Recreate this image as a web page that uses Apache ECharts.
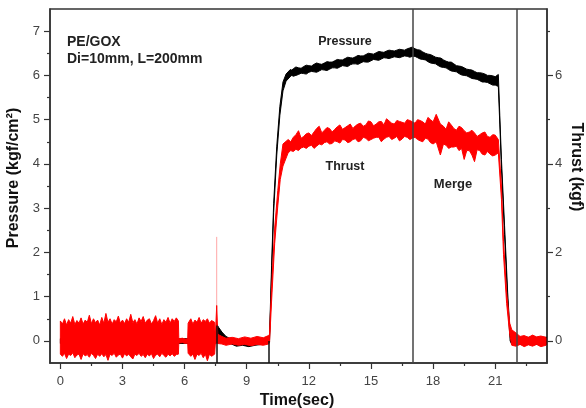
<!DOCTYPE html>
<html lang="en">

<head>
  <meta charset="UTF-8">
  <title>PE/GOX pressure and thrust</title>
  <script src="https://cdn.jsdelivr.net/npm/echarts@6.0.0/dist/echarts.min.js"></script>
  <style>
    html, body { margin: 0; padding: 0; background: #fff; }
    #chart { width: 586px; height: 408px; }
  </style>
</head>

<body>
  <div id="chart"></div>
  <script>
    // ---- data: rows are [time (s), band low, band high] ----
    // pressure (kgf/cm2), black trace
    const pressureIdle = [
      [0, -0.06, 0.05], [5.7, -0.06, 0.05], [7.5, -0.05, 0.05],
      [7.55, -0.03, 0.38], [7.65, 0.12, 0.3], [7.8, 0.05, 0.2], [8.0, -0.02, 0.1],
      [8.2, -0.06, 0.05], [8.5, -0.12, -0.02], [8.8, -0.1, 0.0], [9.1, -0.13, -0.03],
      [9.4, -0.1, 0.0], [9.7, -0.08, 0.02], [10.05, -0.05, 0.05]
    ];
    const pressureBurn = [
      [10.1, -0.02, 0.1], [10.2, 1.5, 1.7], [10.3, 2.9, 3.1], [10.45, 4.2, 4.4],
      [10.6, 5.1, 5.3], [10.75, 5.65, 5.85], [10.9, 5.87, 6.03], [11.1, 5.97, 6.13],
      [11.175, 6.0, 6.12], [11.25, 5.98, 6.15], [11.375, 6.0, 6.19], [11.5, 6.02, 6.17],
      [11.625, 6.05, 6.16], [11.75, 6.04, 6.2], [11.875, 6.03, 6.23], [12.0, 6.07, 6.22],
      [12.125, 6.09, 6.21], [12.25, 6.08, 6.25], [12.375, 6.07, 6.28], [12.5, 6.1, 6.26],
      [12.625, 6.13, 6.25], [12.75, 6.12, 6.28], [12.875, 6.11, 6.31], [13.0, 6.14, 6.3],
      [13.125, 6.17, 6.3], [13.25, 6.17, 6.33], [13.375, 6.16, 6.36], [13.5, 6.19, 6.35],
      [13.625, 6.22, 6.35], [13.75, 6.21, 6.38], [13.875, 6.2, 6.41], [14.0, 6.24, 6.4],
      [14.125, 6.26, 6.39], [14.25, 6.26, 6.42], [14.375, 6.25, 6.45], [14.5, 6.28, 6.44],
      [14.625, 6.31, 6.44], [14.75, 6.3, 6.47], [14.875, 6.3, 6.5], [15.0, 6.33, 6.49],
      [15.125, 6.36, 6.48], [15.25, 6.35, 6.51], [15.375, 6.34, 6.54], [15.5, 6.37, 6.53],
      [15.625, 6.4, 6.52], [15.75, 6.39, 6.55], [15.875, 6.38, 6.57], [16.0, 6.4, 6.56],
      [16.125, 6.42, 6.55], [16.25, 6.41, 6.57], [16.375, 6.4, 6.59], [16.5, 6.42, 6.58],
      [16.625, 6.44, 6.57], [16.75, 6.43, 6.6], [16.875, 6.41, 6.62], [17.0, 6.43, 6.64],
      [17.125, 6.43, 6.6], [17.25, 6.4, 6.58], [17.375, 6.37, 6.57], [17.5, 6.36, 6.53],
      [17.625, 6.35, 6.5], [17.75, 6.31, 6.48], [17.875, 6.28, 6.47], [18.0, 6.27, 6.44],
      [18.125, 6.26, 6.41], [18.25, 6.22, 6.4], [18.375, 6.19, 6.39], [18.5, 6.18, 6.35],
      [18.625, 6.17, 6.32], [18.75, 6.13, 6.3], [18.875, 6.1, 6.3], [19.0, 6.09, 6.26],
      [19.125, 6.08, 6.22], [19.25, 6.04, 6.21], [19.375, 6.01, 6.2], [19.5, 6.0, 6.17],
      [19.625, 5.99, 6.14], [19.75, 5.96, 6.13], [19.875, 5.93, 6.12], [20.0, 5.92, 6.09],
      [20.125, 5.91, 6.06], [20.25, 5.88, 6.06], [20.375, 5.85, 6.05], [20.5, 5.85, 6.03],
      [20.625, 5.84, 6.0], [20.75, 5.81, 6.0], [20.875, 5.78, 5.99], [21.0, 5.78, 5.97],
      [21.15, 5.75, 6.02], [21.22, 4.9, 5.1], [21.3, 3.9, 4.1], [21.45, 2.4, 2.6],
      [21.6, 0.9, 1.1], [21.72, 0.0, 0.15], [21.8, -0.08, 0.08], [23.5, -0.08, 0.08]
    ];

    // thrust (kgf), red trace
    const thrustIdle = [
      [0, -0.3, 0.45], [0.1, -0.35, 0.38], [0.2, -0.28, 0.5], [0.3, -0.4, 0.36], [0.4, -0.3, 0.48],
      [0.5, -0.33, 0.4], [0.6, -0.27, 0.55], [0.7, -0.38, 0.37], [0.8, -0.32, 0.46], [0.9, -0.3, 0.4],
      [1.0, -0.42, 0.52], [1.1, -0.29, 0.38], [1.2, -0.34, 0.47], [1.3, -0.31, 0.42], [1.4, -0.37, 0.58],
      [1.5, -0.28, 0.39], [1.6, -0.33, 0.5], [1.7, -0.4, 0.41], [1.8, -0.3, 0.47], [1.9, -0.35, 0.36],
      [2.0, -0.29, 0.53], [2.1, -0.36, 0.4], [2.2, -0.31, 0.62], [2.3, -0.44, 0.42], [2.4, -0.3, 0.5],
      [2.5, -0.33, 0.38], [2.6, -0.28, 0.48], [2.7, -0.37, 0.43], [2.8, -0.32, 0.56], [2.9, -0.3, 0.4],
      [3.0, -0.39, 0.47], [3.1, -0.29, 0.39], [3.2, -0.34, 0.5], [3.3, -0.3, 0.42], [3.4, -0.36, 0.6],
      [3.5, -0.41, 0.41], [3.6, -0.3, 0.48], [3.7, -0.33, 0.38], [3.8, -0.28, 0.52], [3.9, -0.35, 0.44],
      [4.0, -0.31, 0.55], [4.1, -0.38, 0.4], [4.2, -0.3, 0.47], [4.3, -0.34, 0.5], [4.4, -0.29, 0.38],
      [4.5, -0.4, 0.46], [4.6, -0.32, 0.57], [4.7, -0.3, 0.4], [4.8, -0.36, 0.5], [4.9, -0.28, 0.37],
      [5.0, -0.33, 0.48], [5.1, -0.37, 0.42], [5.2, -0.3, 0.53], [5.3, -0.34, 0.4], [5.4, -0.29, 0.5],
      [5.5, -0.35, 0.44], [5.6, -0.31, 0.52], [5.7, -0.3, 0.45],
      [5.72, -0.05, 0.05], [5.9, -0.04, 0.06], [6.05, -0.06, 0.04], [6.15, -0.05, 0.05],
      [6.17, -0.28, 0.4], [6.3, -0.35, 0.5], [6.4, -0.3, 0.38], [6.5, -0.42, 0.47], [6.6, -0.3, 0.42],
      [6.7, -0.33, 0.53], [6.8, -0.28, 0.4], [6.9, -0.38, 0.48], [7.0, -0.3, 0.44], [7.1, -0.45, 0.5],
      [7.2, -0.3, 0.4], [7.3, -0.35, 0.46], [7.45, -0.3, 0.42],
      [7.48, -0.08, 0.06], [7.55, -0.05, 0.8], [7.6, -0.06, 0.15], [7.8, -0.07, 0.1], [8.0, -0.1, 0.06],
      [8.3, -0.07, 0.08], [8.6, -0.1, 0.05], [8.9, -0.08, 0.09], [9.2, -0.11, 0.06], [9.5, -0.08, 0.1],
      [9.8, -0.1, 0.07], [10.05, -0.07, 0.12]
    ];
    const thrustBurn = [
      [10.1, -0.05, 0.15], [10.2, 0.9, 1.2], [10.35, 2.2, 2.55], [10.5, 3.05, 3.4], [10.62, 3.65, 4.0],
      [10.75, 3.95, 4.45], [11.0, 4.25, 4.55], [11.125, 4.3, 4.5], [11.25, 4.28, 4.6], [11.375, 4.33, 4.66],
      [11.5, 4.3, 4.75], [11.625, 4.36, 4.58], [11.75, 4.38, 4.62], [11.875, 4.35, 4.68], [12.0, 4.4, 4.7],
      [12.125, 4.42, 4.64], [12.25, 4.35, 4.72], [12.375, 4.4, 4.8], [12.5, 4.45, 4.85], [12.625, 4.43, 4.7],
      [12.75, 4.48, 4.76], [12.875, 4.5, 4.82], [13.0, 4.45, 4.8], [13.125, 4.46, 4.72], [13.25, 4.52, 4.78],
      [13.375, 4.5, 4.84], [13.5, 4.47, 4.88], [13.625, 4.55, 4.78], [13.75, 4.54, 4.82], [13.875, 4.48, 4.86],
      [14.0, 4.5, 4.9], [14.125, 4.55, 4.8], [14.25, 4.57, 4.86], [14.375, 4.5, 4.9], [14.5, 4.52, 4.92],
      [14.625, 4.6, 4.85], [14.75, 4.58, 4.88], [14.875, 4.52, 4.97], [15.0, 4.55, 4.95], [15.125, 4.58, 4.86],
      [15.25, 4.6, 4.9], [15.375, 4.6, 4.95], [15.5, 4.5, 4.96], [15.625, 4.56, 4.88], [15.75, 4.6, 5.02],
      [15.875, 4.62, 4.97], [16.0, 4.55, 4.92], [16.125, 4.58, 4.9], [16.25, 4.62, 4.98], [16.375, 4.52, 4.96],
      [16.5, 4.56, 4.94], [16.625, 4.62, 4.92], [16.75, 4.6, 5.0], [16.875, 4.55, 4.98], [17.0, 4.58, 4.95],
      [17.125, 4.6, 4.92], [17.25, 4.55, 5.0], [17.375, 4.52, 4.98], [17.5, 4.5, 4.95], [17.625, 4.58, 4.9],
      [17.75, 4.56, 5.05], [17.875, 4.48, 5.0], [18.0, 4.45, 4.95], [18.15, 4.5, 5.12], [18.35, 4.2, 4.9],
      [18.5, 4.45, 4.85], [18.625, 4.42, 4.78], [18.75, 4.35, 4.95], [18.875, 4.38, 4.88], [19.0, 4.38, 4.8],
      [19.125, 4.4, 4.76], [19.25, 4.3, 4.85], [19.375, 4.35, 4.82], [19.5, 4.1, 4.75], [19.625, 4.3, 4.7],
      [19.75, 4.3, 4.72], [19.875, 4.2, 4.76], [20.0, 4.05, 4.7], [20.125, 4.32, 4.62], [20.25, 4.3, 4.66],
      [20.375, 4.22, 4.7], [20.5, 4.2, 4.72], [20.625, 4.28, 4.62], [20.75, 4.22, 4.6], [20.875, 4.18, 4.66],
      [21.0, 4.2, 4.65], [21.15, 4.25, 4.55],
      [21.3, 3.2, 3.5], [21.4, 1.95, 2.25], [21.55, 0.85, 1.1], [21.7, 0.15, 0.4], [21.8, -0.1, 0.25]
    ];
    const thrustTail = [
      [22.0, -0.12, 0.18], [22.2, -0.08, 0.1], [22.4, -0.13, 0.12], [22.6, -0.09, 0.08],
      [22.8, -0.12, 0.13], [23.0, -0.08, 0.09], [23.2, -0.13, 0.11], [23.45, -0.1, 0.08]
    ];
    const thrustSpike = [[7.55, 0], [7.55, 2.35]];

    // short black marks at ignition / valve open: [time, from, to]
    const triggerMarks = [[7.55, -0.5, 0.35], [10.07, -0.5, 0.0]];
    // full-height event lines
    const eventTimes = [17.0, 22.05];

    // axes
    const xMajor = [0, 3, 6, 9, 12, 15, 18, 21];
    const xMinor = [1.5, 4.5, 7.5, 10.5, 13.5, 16.5, 19.5, 22.5];
    const pMajor = [0, 1, 2, 3, 4, 5, 6, 7];
    const pMinor = [0.5, 1.5, 2.5, 3.5, 4.5, 5.5, 6.5];
    const tMajor = [0, 2, 4, 6];
    const tMinor = [1, 3, 5, 7];

    const FONT = 'Liberation Sans, Arial, sans-serif';
    const AX = '#333';

    // a noisy trace drawn as one filled band: upper edge forward, lower edge back
    function band(rows, color, yAxisIndex) {
      return {
        type: 'custom', yAxisIndex: yAxisIndex, silent: true, animation: false, clip: true,
        data: [[rows[0][0], rows[0][1]]],
        renderItem: function (params, api) {
          const top = rows.map(r => api.coord([r[0], r[2]]));
          const bottom = rows.slice().reverse().map(r => api.coord([r[0], r[1]]));
          return {
            type: 'polygon',
            shape: { points: top.concat(bottom) },
            style: { fill: color, stroke: color, lineWidth: 1, lineJoin: 'round' }
          };
        }
      };
    }

    function xAxisOf(ticks, len, withLabels) {
      return {
        type: 'value', min: -0.5, max: 23.5, position: 'bottom',
        axisLine: { show: withLabels, onZero: false, lineStyle: { color: AX, width: 1.5 } },
        axisTick: { show: true, customValues: ticks, length: len, lineStyle: { color: AX, width: 1.2 } },
        axisLabel: withLabels ? { customValues: ticks, margin: 12, color: '#444', fontSize: 13, fontFamily: FONT } : { show: false },
        splitLine: { show: false }
      };
    }

    function yAxisOf(pos, ticks, labels, len, margin) {
      return {
        type: 'value', min: -0.5, max: 7.5, position: pos,
        axisLine: { show: !!labels, onZero: false, lineStyle: { color: AX, width: 1.5 } },
        axisTick: { show: true, customValues: ticks, length: len, lineStyle: { color: AX, width: 1.2 } },
        axisLabel: labels ? { customValues: labels, margin: margin, color: '#444', fontSize: 13, fontFamily: FONT } : { show: false },
        splitLine: { show: false }
      };
    }

    const chart = echarts.init(document.getElementById('chart'), null, { renderer: 'canvas' });

    const series = [
      band(pressureIdle.concat(pressureBurn), '#000000', 0),
      {
        type: 'line', data: [], yAxisIndex: 0, silent: true, animation: false,
        markLine: {
          symbol: 'none', silent: true, animation: false,
          label: { show: false },
          lineStyle: { color: '#111', width: 1.5, type: 'solid' },
          data: triggerMarks.map(m => [{ coord: [m[0], m[1]] }, { coord: [m[0], m[2]] }])
        }
      },
      {
        type: 'line', data: thrustSpike, yAxisIndex: 1, symbol: 'none', silent: true, animation: false,
        lineStyle: { color: 'rgba(255,0,0,0.35)', width: 1 }
      },
      band(thrustIdle.concat(thrustBurn, thrustTail), '#ff0000', 1),
      {
        type: 'line', data: [], yAxisIndex: 0, silent: true, animation: false, z: 5,
        markLine: {
          symbol: 'none', silent: true, animation: false,
          label: { show: false },
          lineStyle: { color: '#444', width: 1.5, type: 'solid' },
          data: eventTimes.map(t => ({ xAxis: t }))
        }
      }
    ];

    const option = {
      animation: false,
      grid: {
        left: 50, right: 39, top: 9, bottom: 45,
        show: true, borderColor: AX, borderWidth: 1.5, backgroundColor: 'transparent'
      },
      xAxis: [xAxisOf(xMajor, 6, true), xAxisOf(xMinor, 3, false)],
      yAxis: [
        yAxisOf('left', pMajor, pMajor, 6, 10),
        yAxisOf('right', tMajor, tMajor, 6, 8),
        yAxisOf('left', pMinor, null, 3, 0),
        yAxisOf('right', tMinor, null, 3, 0)
      ],
      series: series,
      graphic: [
        { type: 'text', x: 67, y: 42, style: { text: 'PE/GOX', font: 'bold 14px ' + FONT, fill: '#222', verticalAlign: 'middle' } },
        { type: 'text', x: 67, y: 59, style: { text: 'Di=10mm, L=200mm', font: 'bold 14px ' + FONT, fill: '#222', verticalAlign: 'middle' } },
        { type: 'text', x: 345, y: 42, style: { text: 'Pressure', font: 'bold 12.5px ' + FONT, fill: '#222', align: 'center', verticalAlign: 'middle' } },
        { type: 'text', x: 345, y: 167, style: { text: 'Thrust', font: 'bold 12.5px ' + FONT, fill: '#222', align: 'center', verticalAlign: 'middle' } },
        { type: 'text', x: 453, y: 184, style: { text: 'Merge', font: 'bold 13px ' + FONT, fill: '#222', align: 'center', verticalAlign: 'middle' } },
        { type: 'text', x: 14, y: 178, rotation: Math.PI / 2, style: { text: 'Pressure (kgf/cm²)', font: 'bold 16px ' + FONT, fill: '#111', align: 'center', verticalAlign: 'middle' } },
        { type: 'text', x: 576, y: 167, rotation: -Math.PI / 2, style: { text: 'Thrust (kgf)', font: 'bold 16px ' + FONT, fill: '#111', align: 'center', verticalAlign: 'middle' } },
        { type: 'text', x: 297, y: 401, style: { text: 'Time(sec)', font: 'bold 16px ' + FONT, fill: '#111', align: 'center', verticalAlign: 'middle' } }
      ]
    };

    chart.setOption(option);
  </script>
</body>

</html>
